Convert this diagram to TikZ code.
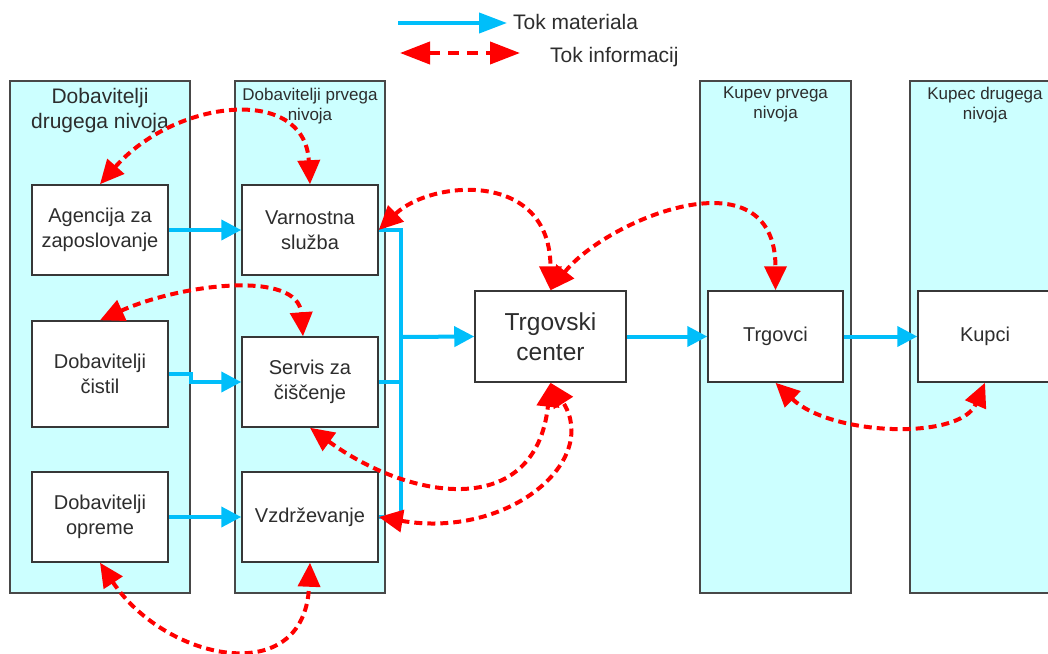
\documentclass[tikz,border=0pt]{standalone}
\usepackage{fontspec}
\setmainfont{Liberation Sans}
\usetikzlibrary{arrows.meta,positioning}

\definecolor{lanecyan}{RGB}{204,255,255}
\definecolor{lanegray}{RGB}{72,72,72}
\definecolor{boxgray}{RGB}{55,55,55}
\definecolor{txtgray}{RGB}{45,45,45}
\definecolor{flowblue}{RGB}{0,190,250}
\definecolor{infored}{RGB}{255,0,0}

\begin{document}
\begin{tikzpicture}[x=1pt,y=-1pt,
  lane/.style={draw=lanegray,line width=2pt,fill=lanecyan,inner sep=0pt,minimum height=512pt},
  lanetitle/.style={text=txtgray,inner sep=0pt,align=center},
  box/.style={draw=boxgray,line width=1.5pt,fill=white,text=txtgray,inner sep=0pt,
    align=center,minimum width=136pt,minimum height=90pt,font=\fontsize{20}{25}\selectfont},
  flow/.style={draw=flowblue,line width=4pt},
  flowarrow/.style={flow,arrows={-Triangle[length=20pt,width=20pt]}},
  info/.style={draw=infored,line width=4pt,dash pattern=on 8pt off 5pt,
    arrows={Triangle[length=24pt,width=22pt]-Triangle[length=24pt,width=22pt]}}]

\useasboundingbox (0,0) rectangle (1048,653);

%%%%%%%%%%%%%%%%%%%%%%%%%%%%%%%%%%%%%%%%%%%%%%%%%%
% Legend
%%%%%%%%%%%%%%%%%%%%%%%%%%%%%%%%%%%%%%%%%%%%%%%%%%

\coordinate (matA) at (398,23);
\coordinate (matB) at (507,23);
\draw[flow,arrows={-Triangle[length=28pt,width=20pt]}] (matA) -- (matB);
\node[anchor=base west,inner sep=0pt,text=txtgray,font=\fontsize{21}{25}\selectfont]
  (matlabel) at (513,29) {Tok materiala};

\coordinate (infA) at (400,53);
\coordinate (infB) at (520,53);
\draw[info,dash pattern=on 11pt off 8pt,
  arrows={Triangle[length=30pt,width=22pt]-Triangle[length=30pt,width=22pt]}] (infA) -- (infB);
\node[anchor=base west,inner sep=0pt,text=txtgray,font=\fontsize{21}{25}\selectfont]
  (inflabel) at (550,62) {Tok informacij};

%%%%%%%%%%%%%%%%%%%%%%%%%%%%%%%%%%%%%%%%%%%%%%%%%%
% Lanes
%%%%%%%%%%%%%%%%%%%%%%%%%%%%%%%%%%%%%%%%%%%%%%%%%%

\node[lane,minimum width=180pt] (lane1) at (100,337) {};
\node[lane,minimum width=150pt] (lane2) at (310,337) {};
\node[lane,minimum width=151pt] (lane3) at (775.5,337) {};
\node[lane,minimum width=150pt] (lane4) at (985,337) {};

% Lane titles
\node[lanetitle,below=8pt of lane1.north,font=\fontsize{21}{25}\selectfont]
  (title1) {Dobavitelji\\drugega nivoja};
\node[lanetitle,below=8pt of lane2.north,font=\fontsize{17}{20}\selectfont]
  (title2) {Dobavitelji prvega\\nivoja};
\node[lanetitle,below=7pt of lane3.north,font=\fontsize{17}{20}\selectfont]
  (title3) {Kupev prvega\\nivoja};
\node[lanetitle,below=7pt of lane4.north,font=\fontsize{17}{20}\selectfont]
  (title4) {Kupec drugega\\nivoja};

%%%%%%%%%%%%%%%%%%%%%%%%%%%%%%%%%%%%%%%%%%%%%%%%%%
% Boxes
%%%%%%%%%%%%%%%%%%%%%%%%%%%%%%%%%%%%%%%%%%%%%%%%%%

\node[box] (agencija) at (100,230) {Agencija za\\zaposlovanje};
\node[box,minimum height=106pt] (cistila) at (100,374) {Dobavitelji\\čistil};
\node[box] (oprema) at (100,517) {Dobavitelji\\opreme};

\node[box] (varnostna) at (310,230) {Varnostna\\služba};
\node[box] (servis) at (310,382) {Servis za\\čiščenje};
\node[box] (vzdrzevanje) at (310,517) {Vzdrževanje};

\node[box,minimum width=151pt,minimum height=91pt,font=\fontsize{24.5}{30}\selectfont]
  (center) at (550.5,336.5) {Trgovski\\center};
\node[box,minimum width=135pt,minimum height=91pt] (trgovci) at (775.5,336.5) {Trgovci};
\node[box,minimum width=134pt,minimum height=91pt] (kupci) at (985,336.5) {Kupci};

%%%%%%%%%%%%%%%%%%%%%%%%%%%%%%%%%%%%%%%%%%%%%%%%%%
% Material flow
%%%%%%%%%%%%%%%%%%%%%%%%%%%%%%%%%%%%%%%%%%%%%%%%%%

\draw[flowarrow] (agencija.east) -- (varnostna.west);
\draw[flowarrow] (cistila.east) -- ++(22,0) |- (servis.west);
\draw[flowarrow] (oprema.east) -- (vzdrzevanje.west);

% Collecting line
\coordinate (bus) at (401,337);
\draw[flow] (varnostna.east) -| (bus |- vzdrzevanje.east) -- (vzdrzevanje.east);
\draw[flow] (servis.east) -- (servis.east -| bus);
\draw[flowarrow] (bus) -- (center.west);

\draw[flowarrow] (center.east) -- (trgovci.west);
\draw[flowarrow] (trgovci.east) -- (kupci.west);

%%%%%%%%%%%%%%%%%%%%%%%%%%%%%%%%%%%%%%%%%%%%%%%%%%
% Information flow
%%%%%%%%%%%%%%%%%%%%%%%%%%%%%%%%%%%%%%%%%%%%%%%%%%

\draw[info] (agencija.north) .. controls +(75,-85) and +(-5,-100) .. (varnostna.north);
\draw[info] (cistila.north) .. controls +(80,-36) and +(-5,-67) .. ([xshift=-7pt]servis.north);
\draw[info] (varnostna.east) .. controls +(52,-50) and +(0,-121) .. (center.north);
\draw[info] (center.north) .. controls +(55,-70) and +(0,-141) .. (trgovci.north);
\draw[info] (servis.south) .. controls +(100,73) and +(-15,138) .. (center.south);
\draw[info] (vzdrzevanje.east) .. controls +(130,22) and +(50,78) .. (center.south);
\draw[info] (oprema.south) .. controls +(65,98) and +(-5,128) .. (vzdrzevanje.south);
\draw[info] (trgovci.south) .. controls +(55,53) and +(-25,58) .. (kupci.south);

\end{tikzpicture}
\end{document}
